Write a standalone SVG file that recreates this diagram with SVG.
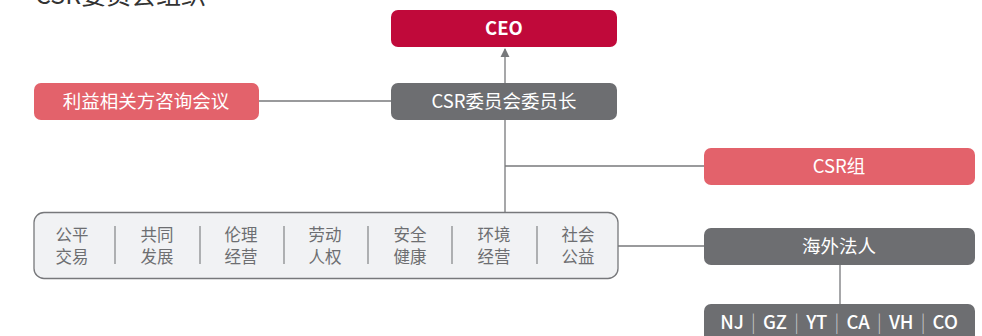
<svg xmlns="http://www.w3.org/2000/svg" width="982" height="336" viewBox="0 0 982 336">
<defs>
<style>
text{font-family:"Noto Sans CJK SC","Noto Sans",sans-serif;}
.red{fill:#e3626b;}
.dark{fill:#6d6e71;}
.crim{fill:#c0093a;}
.lbl{fill:#ffffff;font-size:18.5px;text-anchor:middle;}
.col{fill:#6d6e71;font-size:16.5px;text-anchor:middle;}
.ln{stroke:#77787b;stroke-width:1.3;fill:none;}
.sep{stroke:#8a8b8e;stroke-width:1.3;}
.pipe{fill:#c8c9cb;font-weight:300;}
</style>
<marker id="arr" viewBox="0 0 10 10" refX="9" refY="5" markerWidth="7" markerHeight="7" orient="auto">
<path d="M0,0 L10,5 L0,10 z" fill="#77787b"/>
</marker>
</defs>
<rect width="982" height="336" fill="#ffffff"/>
<text x="35" y="4" font-size="25" fill="#333333">CSR委员会组织</text>
<g id="connectors">
<line class="ln" x1="505" y1="83" x2="505" y2="49" marker-end="url(#arr)"/>
<line class="ln" x1="259" y1="101" x2="391" y2="101"/>
<line class="ln" x1="505" y1="120" x2="505" y2="213"/>
<line class="ln" x1="505" y1="166" x2="704" y2="166"/>
<line class="ln" x1="618" y1="246" x2="704" y2="246"/>
<line class="ln" x1="840" y1="265" x2="840" y2="304"/>
</g>
<g id="ceo">
<rect x="391" y="10" width="226" height="37" rx="7" class="crim"/>
<text x="504" y="35" class="lbl" font-weight="bold">CEO</text>
</g>
<g id="chair">
<rect x="391" y="83" width="226" height="37" rx="7" class="dark"/>
<text x="504" y="108" class="lbl">CSR委员会委员长</text>
</g>
<g id="stakeholder">
<rect x="34" y="83" width="225" height="37" rx="7" class="red"/>
<text x="146" y="108" class="lbl">利益相关方咨询会议</text>
</g>
<g id="csrgroup">
<rect x="704" y="148" width="271" height="37" rx="7" class="red"/>
<text x="839" y="173" class="lbl">CSR组</text>
</g>
<g id="overseas">
<rect x="704" y="228" width="271" height="37" rx="7" class="dark"/>
<text x="839" y="253" class="lbl">海外法人</text>
</g>
<g id="sites">
<rect x="704" y="304" width="271" height="40" rx="7" class="dark"/>
<text x="839" y="329" class="lbl" font-size="19.5" font-weight="500" word-spacing="3">NJ <tspan class="pipe">|</tspan> GZ <tspan class="pipe">|</tspan> YT <tspan class="pipe">|</tspan> CA <tspan class="pipe">|</tspan> VH <tspan class="pipe">|</tspan> CO</text>
</g>
<g id="areas">
<rect x="34" y="212.5" width="584" height="66" rx="10" fill="#f1f2f4" stroke="#77787b" stroke-width="1.3"/>
<line class="sep" x1="115" y1="226" x2="115" y2="264"/>
<line class="sep" x1="200" y1="226" x2="200" y2="264"/>
<line class="sep" x1="284" y1="226" x2="284" y2="264"/>
<line class="sep" x1="368" y1="226" x2="368" y2="264"/>
<line class="sep" x1="452" y1="226" x2="452" y2="264"/>
<line class="sep" x1="537" y1="226" x2="537" y2="264"/>
<text class="col" x="72" y="241">公平</text><text class="col" x="72" y="263">交易</text>
<text class="col" x="157" y="241">共同</text><text class="col" x="157" y="263">发展</text>
<text class="col" x="241" y="241">伦理</text><text class="col" x="241" y="263">经营</text>
<text class="col" x="325" y="241">劳动</text><text class="col" x="325" y="263">人权</text>
<text class="col" x="410" y="241">安全</text><text class="col" x="410" y="263">健康</text>
<text class="col" x="494" y="241">环境</text><text class="col" x="494" y="263">经营</text>
<text class="col" x="578" y="241">社会</text><text class="col" x="578" y="263">公益</text>
</g>
</svg>
